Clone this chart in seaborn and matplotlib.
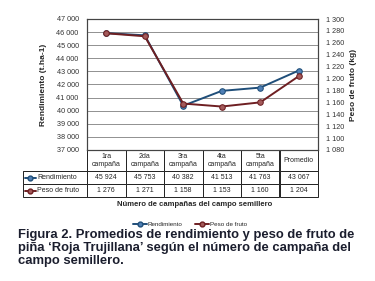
import pandas as pd
import numpy as np
import seaborn as sns
import matplotlib.pyplot as plt
from matplotlib.ticker import FuncFormatter
from matplotlib.lines import Line2D

# data
campanas = ["1ra\ncampaña", "2da\ncampaña", "3ra\ncampaña", "4ta\ncampaña", "5ta\ncampaña", "Promedio"]
rendimiento = [45924, 45753, 40382, 41513, 41763, 43067]
peso_fruto = [1276, 1271, 1158, 1153, 1160, 1204]
rend_labels = ["45 924", "45 753", "40 382", "41 513", "41 763", "43 067"]
peso_labels = ["1 276", "1 271", "1 158", "1 153", "1 160", "1 204"]

blue_line, blue_mk = "#1f4e79", "#4f7fb5"
red_line, red_mk = "#6e1f22", "#a35a5a"

sns.set_style("white")
plt.rcParams["font.family"] = ["Liberation Sans", "DejaVu Sans"]

df = pd.DataFrame({"campana": campanas, "rend": rendimiento, "peso": peso_fruto})

fig = plt.figure(figsize=(3.75, 2.81), dpi=100)
ax = fig.add_axes([87 / 375, 1 - 150 / 281, 231 / 375, 131 / 281])
ax2 = ax.twinx()

sns.lineplot(data=df, x="campana", y="rend", ax=ax, sort=False, color=blue_line, lw=1.4,
             marker="o", markersize=4, markerfacecolor=blue_mk, markeredgecolor=blue_line, zorder=3)
sns.lineplot(data=df, x="campana", y="peso", ax=ax2, sort=False, color=red_line, lw=1.4,
             marker="o", markersize=4, markerfacecolor=red_mk, markeredgecolor=red_line, zorder=3)

ax.set_ylim(37000, 47000)
ax.set_yticks(np.arange(37000, 47001, 1000))
ax2.set_ylim(1080, 1300)
ax2.set_yticks(np.arange(1080, 1301, 20))
fmt = FuncFormatter(lambda v, p: f"{int(v):,}".replace(",", " "))
ax.yaxis.set_major_formatter(fmt)
ax2.yaxis.set_major_formatter(fmt)
ax.set_xlim(-0.5, 5.5)
ax.set_xticks(range(6))
ax.set_xticklabels([])
ax.set_xlabel("")
ax2.set_xlabel("")
ax.tick_params(axis="both", length=0, labelsize=5.2, pad=6, colors="#333333")
ax2.tick_params(axis="both", length=0, labelsize=5.2, pad=6, colors="#333333")
ax.yaxis.grid(True, color="#909090", lw=0.7)
ax.set_axisbelow(True)
for a in (ax, ax2):
    for s in a.spines.values():
        s.set_color("#444444")
        s.set_linewidth(0.8)

ax.set_ylabel("Rendimiento (t.ha-1)", fontsize=6, fontweight="bold", labelpad=7)
ax2.set_ylabel("Peso de fruto (kg)", fontsize=6, fontweight="bold", labelpad=4)

# data table under the plot
cell_text = [[""] + rend_labels, [""] + peso_labels]
tab = ax.table(cellText=cell_text, colLabels=[""] + campanas, cellLoc="center",
               colWidths=[64] + [38.5] * 6,
               bbox=[-64 / 231, -47 / 131, 295 / 231, 47 / 131])
tab.auto_set_font_size(False)
tab.set_fontsize(5)
for (r, c), cell in tab.get_celld().items():
    cell.set_edgecolor("#222222")
    cell.set_linewidth(0.7)
    cell.set_height(21 if r == 0 else 13)
    if r == 0 and c == 0:
        cell.visible_edges = "BR"

# series names with keys inside the table
names = ["Rendimiento", "Peso de fruto"]
colors = [(blue_line, blue_mk), (red_line, red_mk)]
for i, (name, (lc, mc)) in enumerate(zip(names, colors)):
    y = 1 - (177.5 + 13 * i) / 281
    fig.text(37 / 375, y, name, fontsize=5, va="center", ha="left")
    fig.add_artist(Line2D([25 / 375, 36 / 375], [y, y], color=lc, lw=1.4))
    fig.add_artist(Line2D([30.5 / 375], [y], marker="o", markersize=3.5,
                          markerfacecolor=mc, markeredgecolor=lc))

fig.text(195 / 375, 1 - 204 / 281, "Número de campañas del campo semillero",
         fontsize=5.5, fontweight="bold", ha="center", va="center")

handles = [Line2D([], [], color=blue_line, lw=1.4, marker="o", markersize=3.5,
                  markerfacecolor=blue_mk, markeredgecolor=blue_line),
           Line2D([], [], color=red_line, lw=1.4, marker="o", markersize=3.5,
                  markerfacecolor=red_mk, markeredgecolor=red_line)]
fig.legend(handles, names, loc="center", bbox_to_anchor=(190 / 375, 1 - 224 / 281), ncol=2,
           fontsize=4.5, frameon=False, handlelength=2.2, handletextpad=0.2, columnspacing=2)

caption = ("Figura 2. Promedios de rendimiento y peso de fruto de\n"
           "piña ‘Roja Trujillana’ según el número de campaña del\n"
           "campo semillero.")
fig.text(18 / 375, 1 - 229 / 281, caption, fontsize=9.4, fontweight="bold", color="#1b1e2e",
         ha="left", va="top", linespacing=1.1)

plt.savefig("out.png", dpi=100)
